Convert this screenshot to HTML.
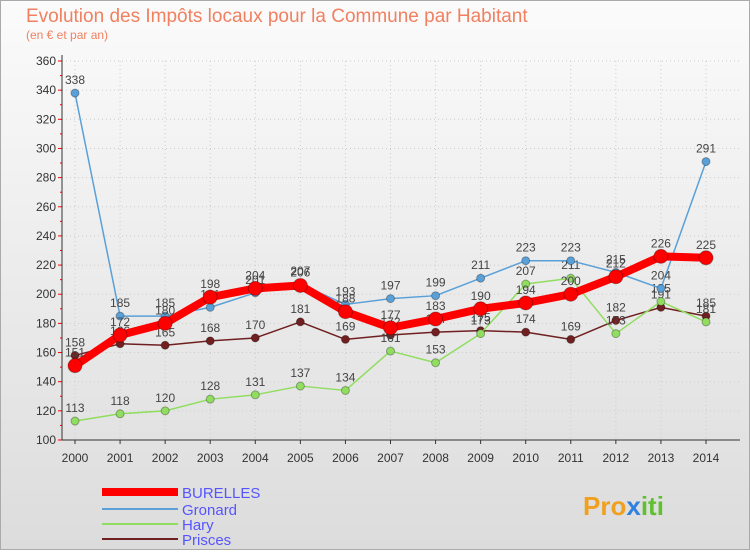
<!DOCTYPE html>
<html><head><meta charset="utf-8"><style>
body{margin:0;width:750px;height:550px;overflow:hidden}
svg{font-family:"Liberation Sans",sans-serif}
</style></head><body>
<svg id="chart" width="750" height="550" xmlns="http://www.w3.org/2000/svg">
<defs><linearGradient id="bg" x1="0" y1="0" x2="0" y2="1"><stop offset="0" stop-color="#fbfbfb"/><stop offset="1" stop-color="#dcdcdc"/></linearGradient></defs>
<rect x="0.5" y="0.5" width="749" height="549" fill="url(#bg)" stroke="#aaa"/>
<text x="26" y="22" font-size="19" fill="#f08060">Evolution des Impôts locaux pour la Commune par Habitant</text>
<text x="26" y="39" font-size="12" fill="#f08060">(en € et par an)</text>
<g id="axes"></g><g id="series"></g>
<g font-size="15">
<line x1="102" y1="492" x2="178" y2="492" stroke="#f00" stroke-width="8"/><text x="182" y="498" fill="#55f">BURELLES</text>
<line x1="102" y1="509" x2="178" y2="509" stroke="#5aa0d8" stroke-width="2"/><text x="182" y="515" fill="#55f">Gronard</text>
<line x1="102" y1="524" x2="178" y2="524" stroke="#90dd60" stroke-width="2"/><text x="182" y="530" fill="#55f">Hary</text>
<line x1="102" y1="539" x2="178" y2="539" stroke="#702020" stroke-width="2"/><text x="182" y="545" fill="#55f">Prisces</text>
</g>
<text x="583" y="515" font-size="26" font-weight="bold" fill="#f0a020">Pro<tspan fill="#3080e0">x</tspan><tspan fill="#60c030">iti</tspan></text>
</svg>
<script>
const years=[2000,2001,2002,2003,2004,2005,2006,2007,2008,2009,2010,2011,2012,2013,2014];
const burelles=[151,172,180,198,204,206,188,177,183,190,194,200,212,226,225];
const gronard=[338,185,185,191,201,207,193,197,199,211,223,223,215,204,291];
const hary=[113,118,120,128,131,137,134,161,153,173,207,211,173,195,181];
const prisces=[158,166,165,168,170,181,169,172,174,175,174,169,182,191,185];
const yTicks=[100,120,140,160,180,200,220,240,260,280,300,320,340,360];
const NS="http://www.w3.org/2000/svg";
const X=i=>75+i*(706-75)/14, Y=v=>440-(v-100)*(379/260);
function mk(t,a,p){const e=document.createElementNS(NS,t);for(const k in a)e.setAttribute(k,a[k]);p.appendChild(e);return e;}
const ax=document.getElementById('axes');
yTicks.forEach(v=>{
 const g=mk('line',{x1:62,x2:740,y1:Y(v),y2:Y(v),stroke:'#ccc','stroke-dasharray':'1,3'},ax);
 
 const t=mk('text',{x:56,y:Y(v)+4,'font-size':12,'text-anchor':'end',fill:'#333'},ax);t.textContent=v;
 
 mk('line',{x1:58,x2:62,y1:Y(v),y2:Y(v),stroke:'#f00'},ax);
 if(v<360) mk('line',{x1:60,x2:62,y1:Y(v+10),y2:Y(v+10),stroke:'#f00'},ax);
});
years.forEach((yr,i)=>{
 mk('line',{x1:X(i),x2:X(i),y1:61,y2:440,stroke:'#ccc','stroke-dasharray':'1,3'},ax);
 mk('line',{x1:X(i),x2:X(i),y1:440,y2:444,stroke:'#333'},ax);
 const t=mk('text',{x:X(i),y:462,'font-size':12,'text-anchor':'middle',fill:'#333'},ax);t.textContent=yr;
 
});
mk('line',{x1:62,x2:62,y1:55,y2:440,stroke:'#333'},ax);
mk('line',{x1:62,x2:740,y1:440,y2:440,stroke:'#333'},ax);
const sg=document.getElementById('series');
function draw(name,vals,col,w,r){
 const g=mk('g',{},sg);
 
 const l=mk('polyline',{points:vals.map((v,i)=>X(i)+','+Y(v)).join(' '),fill:'none',stroke:col,'stroke-width':w,'stroke-linejoin':'round'},g);
 vals.forEach((v,i)=>{
  const c=mk('circle',{cx:X(i),cy:Y(v),r:r,fill:col,stroke:'rgba(0,0,0,0.3)'},g);
  
  const t=mk('text',{x:X(i),y:Y(v)-9,'font-size':12,'text-anchor':'middle',fill:'#444'},g);t.textContent=v;
  
 });
}
draw('prisces',prisces,'#702020',1.5,4);
draw('hary',hary,'#90dd60',1.5,4);
draw('gronard',gronard,'#5aa0d8',1.5,4);
draw('burelles',burelles,'#f00',8,7);
</script>
</body></html>
